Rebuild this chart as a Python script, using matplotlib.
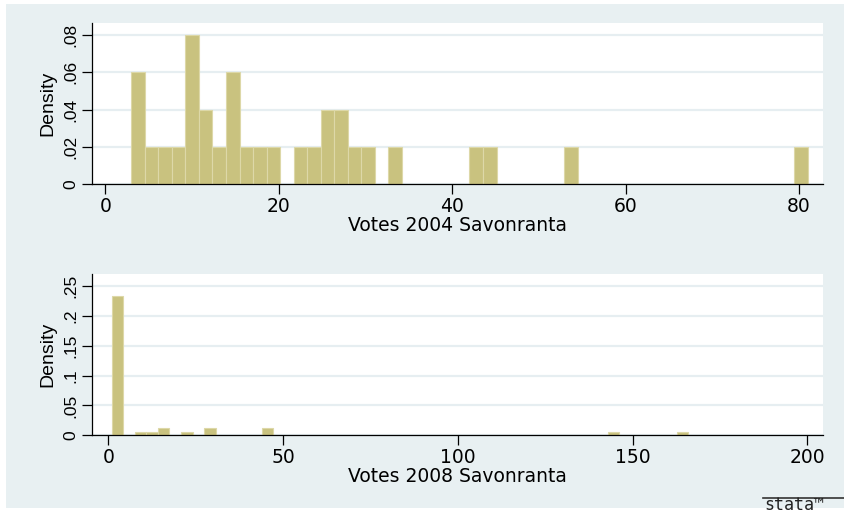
# Density histograms of Savonranta votes, 2004 and 2008, in the Stata s2color look
import numpy as np
import matplotlib.pyplot as plt
from matplotlib.patches import Rectangle
from matplotlib.lines import Line2D

# 2004: 50 bins of width 1.56 starting at 3 votes, frequency per bin
start_2004 = 3.0
width_2004 = 1.56
counts_2004 = [3, 1, 1, 1, 4, 2, 1, 3, 1, 1,
               1, 0, 1, 1, 2, 2, 1, 1, 0, 1,
               0, 0, 0, 0, 0, 1, 1, 0, 0, 0,
               0, 0, 1, 0, 0, 0, 0, 0, 0, 0,
               0, 0, 0, 0, 0, 0, 0, 0, 0, 1]

# 2008: 50 bins of width 3.3 starting at 1 vote
start_2008 = 1.0
width_2008 = 3.3
counts_2008 = [37, 0, 1, 1, 2, 0, 1, 0, 2, 0,
               0, 0, 0, 2, 0, 0, 0, 0, 0, 0,
               0, 0, 0, 0, 0, 0, 0, 0, 0, 0,
               0, 0, 0, 0, 0, 0, 0, 0, 0, 0,
               0, 0, 0, 1, 0, 0, 0, 0, 0, 1]

xticks_2004 = [0, 20, 40, 60, 80]
yticks_2004 = [0, 0.02, 0.04, 0.06, 0.08]
ylabels_2004 = ['0', '.02', '.04', '.06', '.08']

xticks_2008 = [0, 50, 100, 150, 200]
yticks_2008 = [0, 0.05, 0.1, 0.15, 0.2, 0.25]
ylabels_2008 = ['0', '.05', '.1', '.15', '.2', '.25']

bg = '#e8f0f2'
grid_col = '#e6eef1'
bar_fill = '#c9c27f'
bar_edge = '#ddd8a8'

plt.rcParams['font.family'] = ['DejaVu Sans']

W, H = 844, 515
fig = plt.figure(figsize=(W / 100, H / 100), dpi=100)
fig.patch.set_facecolor('white')
fig.add_artist(Rectangle((6 / W, 1 - 508 / H), (W - 6) / W, 504 / H,
                         transform=fig.transFigure, facecolor=bg,
                         edgecolor='none', zorder=0))


def hist_panel(rect, start, width, counts, xlim, ylim, xticks, yticks,
               ylabels, xlabel):
    ax = fig.add_axes(rect)
    counts = np.asarray(counts, dtype=float)
    dens = counts / (counts.sum() * width)
    lefts = start + width * np.arange(len(counts))
    keep = counts > 0
    ax.bar(lefts[keep], dens[keep], width=width, align='edge',
           color=bar_fill, edgecolor=bar_edge, linewidth=0.8, zorder=2)
    ax.set_xlim(*xlim)
    ax.set_ylim(*ylim)
    ax.set_facecolor('white')
    for s in ['top', 'right']:
        ax.spines[s].set_visible(False)
    for s in ['left', 'bottom']:
        ax.spines[s].set_linewidth(0.9)
        ax.spines[s].set_color('black')
    ax.set_xticks(xticks)
    ax.set_xticklabels([str(t) for t in xticks], fontsize=13.5)
    ax.set_yticks(yticks)
    ax.set_yticklabels(ylabels, fontsize=12.5, family='Liberation Sans',
                       rotation=90, va='center')
    ax.tick_params(axis='x', length=7, width=0.9, pad=2.5)
    ax.tick_params(axis='y', length=7, width=0.9, pad=2.8)
    ax.set_axisbelow(True)
    ax.yaxis.grid(True, color=grid_col, linewidth=1.6)
    ax.set_xlabel(xlabel, fontsize=13.5, labelpad=0)
    ax.set_ylabel('Density', fontsize=14, family='Liberation Sans',
                  labelpad=5)
    return ax


hist_panel([92 / W, 1 - 184.3 / H, 731 / W, 161.3 / H],
           start_2004, width_2004, counts_2004, (-1.53, 82.77), (0, 0.0864),
           xticks_2004, yticks_2004, ylabels_2004, 'Votes 2004 Savonranta')

hist_panel([92 / W, 1 - 435.3 / H, 731 / W, 161.3 / H],
           start_2008, width_2008, counts_2008, (-4.66, 204.5), (0, 0.2701),
           xticks_2008, yticks_2008, ylabels_2008, 'Votes 2008 Savonranta')

# stata mark in the lower right corner
fig.add_artist(Line2D([763 / W, 1.0], [1 - 497.5 / H, 1 - 497.5 / H],
                      transform=fig.transFigure, color='#333333',
                      linewidth=1.2))
fig.text(764 / W, 1 - 510 / H, 'stata\u2122', fontsize=12,
         family='DejaVu Sans Mono', color='#222222', ha='left',
         va='baseline')

fig.savefig('out.png', dpi=100, facecolor='white')
